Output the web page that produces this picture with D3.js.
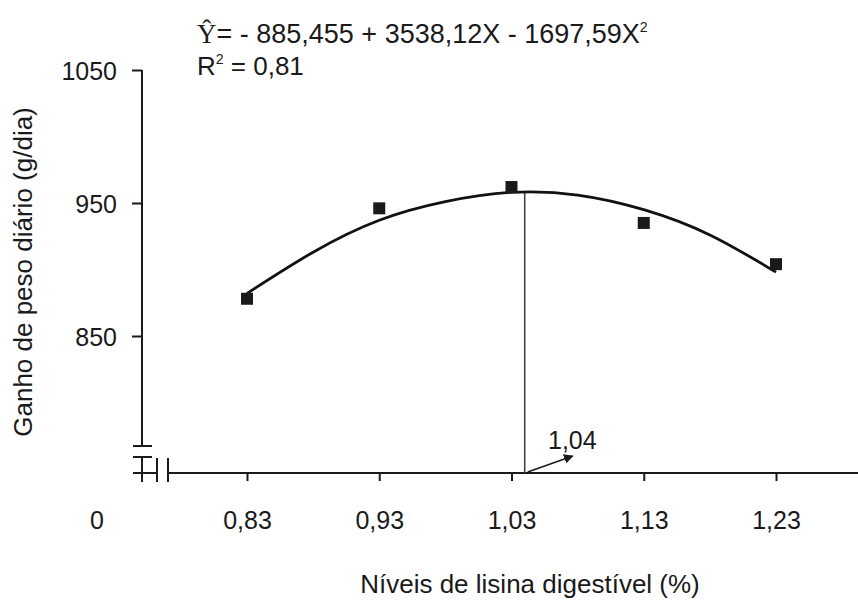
<!DOCTYPE html>
<html>
<head>
<meta charset="utf-8">
<script src="https://cdn.jsdelivr.net/npm/d3@7"></script>
<style>
  body { margin: 0; background: #fff; }
  text { font-family: "Liberation Sans", Arial, sans-serif; fill: #1a1a1a; }
</style>
</head>
<body>
<div id="chart"></div>
<script>
// observed means
const levels = [0.83, 0.93, 1.03, 1.13, 1.23];
const gain = [878, 946, 962, 935, 904];

// fitted curve
const fitX = [0.83, 0.88, 0.93, 0.98, 1.03, 1.08, 1.13, 1.18, 1.23];
const fitY = [882, 913, 937, 951, 958, 956, 945, 926, 898];

const yTicks = [850, 950, 1050];
const xTickLabels = ["0,83", "0,93", "1,03", "1,13", "1,23"];
const optimum = 1.04;
const optimumGain = 958;

const width = 858, height = 600;

const svg = d3.select("#chart")
    .append("svg")
    .attr("width", width)
    .attr("height", height);

const x = d3.scaleLinear()
    .domain([0.83, 1.23])
    .range([247, 776]);

const y = d3.scaleLinear()
    .domain([850, 1050])
    .range([336, 70]);

const axisX = 142, axisY = 473;
const yBottom = 446;

// y axis
const yAxis = svg.append("g")
    .attr("transform", `translate(${axisX},0)`)
    .call(d3.axisLeft(y).tickValues(yTicks).tickSize(10).tickPadding(15).tickFormat(d3.format("d")));
yAxis.select(".domain").remove();
yAxis.selectAll(".tick line").attr("stroke", "#1a1a1a").attr("stroke-width", 2);
yAxis.selectAll(".tick text").style("font-size", "25px").style("fill", "#1a1a1a")
    .attr("dy", "0.36em");

svg.append("line")
    .attr("x1", axisX).attr("x2", axisX)
    .attr("y1", y(1050)).attr("y2", yBottom)
    .attr("stroke", "#1a1a1a").attr("stroke-width", 2);

// axis break marks
const brk = svg.append("g").attr("stroke", "#1a1a1a").attr("stroke-width", 2);
brk.append("line").attr("x1", axisX - 9).attr("x2", axisX + 10).attr("y1", yBottom).attr("y2", yBottom);
brk.append("line").attr("x1", axisX - 9).attr("x2", axisX + 10).attr("y1", yBottom + 11).attr("y2", yBottom + 11);
brk.append("line").attr("x1", axisX).attr("x2", axisX).attr("y1", yBottom + 11).attr("y2", axisY + 9);
brk.append("line").attr("x1", axisX - 9).attr("x2", axisX + 16).attr("y1", axisY).attr("y2", axisY);
brk.append("line").attr("x1", axisX + 15).attr("x2", axisX + 15).attr("y1", axisY - 15).attr("y2", axisY + 9);
brk.append("line").attr("x1", axisX + 26).attr("x2", axisX + 26).attr("y1", axisY - 15).attr("y2", axisY + 9);

// x axis
svg.append("line")
    .attr("x1", axisX + 26).attr("x2", width)
    .attr("y1", axisY).attr("y2", axisY)
    .attr("stroke", "#1a1a1a").attr("stroke-width", 2);

const xAxis = svg.append("g")
    .attr("transform", `translate(0,${axisY})`)
    .call(d3.axisBottom(x).tickValues(levels).tickSize(8).tickPadding(30)
        .tickFormat((d, i) => xTickLabels[i]));
xAxis.select(".domain").remove();
xAxis.selectAll(".tick line").attr("stroke", "#1a1a1a").attr("stroke-width", 2);
xAxis.selectAll(".tick text").style("font-size", "25px").style("fill", "#1a1a1a")
    .attr("dy", "0.71em");

svg.append("text")
    .attr("x", 97).attr("y", 529)
    .attr("text-anchor", "middle")
    .style("font-size", "25px")
    .text("0");

// axis titles
svg.append("text")
    .attr("x", 530).attr("y", 593)
    .attr("text-anchor", "middle")
    .style("font-size", "26px")
    .text("Níveis de lisina digestível (%)");

svg.append("text")
    .attr("transform", "translate(32,272) rotate(-90)")
    .attr("text-anchor", "middle")
    .style("font-size", "26px")
    .text("Ganho de peso diário (g/dia)");

// optimum marker line
svg.append("line")
    .attr("x1", x(optimum)).attr("x2", x(optimum))
    .attr("y1", axisY).attr("y2", y(optimumGain))
    .attr("stroke", "#444").attr("stroke-width", 1.6);

// fitted curve
const line = d3.line()
    .x((d, i) => x(fitX[i]))
    .y(d => y(d))
    .curve(d3.curveNatural);

svg.append("path")
    .datum(fitY)
    .attr("d", line)
    .attr("fill", "none")
    .attr("stroke", "#111")
    .attr("stroke-width", 2.8);

// observed points
svg.selectAll("rect.pt")
    .data(gain)
    .enter()
    .append("rect")
    .attr("class", "pt")
    .attr("x", (d, i) => x(levels[i]) - 6)
    .attr("y", d => y(d) - 6)
    .attr("width", 12)
    .attr("height", 12)
    .attr("fill", "#1a1a1a");

// arrow to the optimum label
svg.append("defs").append("marker")
    .attr("id", "arrow")
    .attr("viewBox", "0 0 10 10")
    .attr("refX", 9).attr("refY", 5)
    .attr("markerWidth", 6).attr("markerHeight", 6)
    .attr("orient", "auto")
    .append("path")
    .attr("d", "M0,0 L10,5 L0,10 z")
    .attr("fill", "#1a1a1a");

svg.append("line")
    .attr("x1", x(optimum) + 3).attr("y1", axisY - 1)
    .attr("x2", x(optimum) + 48).attr("y2", axisY - 17)
    .attr("stroke", "#1a1a1a").attr("stroke-width", 1.6)
    .attr("marker-end", "url(#arrow)");

svg.append("text")
    .attr("x", 548).attr("y", 449)
    .style("font-size", "25px")
    .text("1,04");

// equation
const eq = svg.append("text")
    .attr("x", 197).attr("y", 43)
    .style("font-size", "27px");
eq.append("tspan").style("font-family", "'Liberation Serif', 'Times New Roman', serif").text("Ŷ");
eq.append("tspan").text("= - 885,455 + 3538,12X - 1697,59X");
eq.append("tspan").attr("dy", -11).style("font-size", "14px").text("2");

const r2 = svg.append("text")
    .attr("x", 197).attr("y", 75)
    .style("font-size", "26px");
r2.append("tspan").text("R");
r2.append("tspan").attr("dy", -11).style("font-size", "14px").text("2");
r2.append("tspan").attr("dy", 11).text(" = 0,81");
</script>
</body>
</html>
